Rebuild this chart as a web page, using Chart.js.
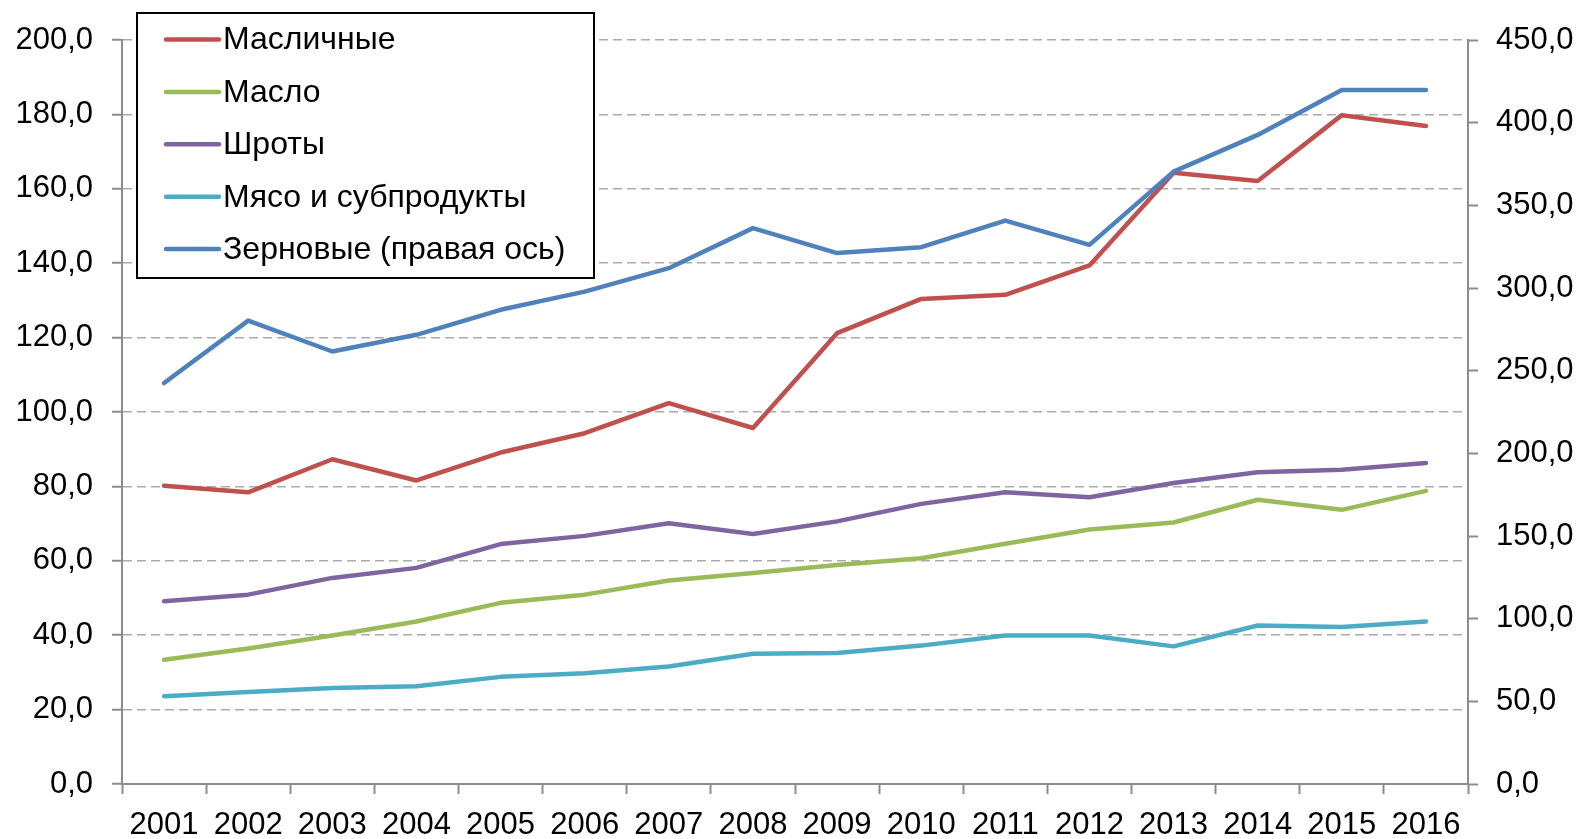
<!DOCTYPE html>
<html>
<head>
<meta charset="utf-8">
<script src="https://cdn.jsdelivr.net/npm/chart.js@4/dist/chart.umd.min.js"></script>
<style>
  html, body { margin: 0; padding: 0; background: #fff; }
  #wrap { width: 1580px; height: 839px; position: relative; }
</style>
</head>
<body>
<div id="wrap"><canvas id="exportChart"></canvas></div>
<script>
const years = ['2001','2002','2003','2004','2005','2006','2007','2008','2009','2010','2011','2012','2013','2014','2015','2016'];

const oilseeds = [80.2, 78.4, 87.3, 81.6, 89.1, 94.3, 102.4, 95.7, 121.2, 130.4, 131.5, 139.4, 164.3, 162.1, 179.8, 176.9];
const oil      = [33.4, 36.4, 39.9, 43.7, 48.7, 50.9, 54.7, 56.7, 58.9, 60.7, 64.6, 68.4, 70.3, 76.4, 73.7, 78.8];
const meal     = [49.1, 50.9, 55.4, 58.1, 64.5, 66.7, 70.1, 67.2, 70.6, 75.3, 78.4, 77.1, 80.9, 83.8, 84.5, 86.3];
const meat     = [23.6, 24.7, 25.8, 26.3, 28.8, 29.8, 31.6, 35.0, 35.2, 37.2, 39.9, 39.9, 37.0, 42.6, 42.2, 43.7];
const grain    = [242.5, 280.3, 261.6, 271.7, 286.8, 297.8, 312.0, 336.2, 321.1, 324.7, 340.8, 326.1, 370.4, 392.6, 419.8, 419.8];

const leftTicks = { min: 0, max: 200, step: 20 };
const rightTicks = { min: 0, max: 450, step: 50 };

const FAMILY = '"Liberation Sans", Arial, sans-serif';
const TICK_FONT = { family: FAMILY, size: 31 };
const LEGEND_SIZE = 32;
const AXIS_GREY = '#8c8c8c';
const fmt = v => Number(v).toFixed(1).replace('.', ',');

function series(label, data, color, axis, order) {
    return {
        label: label,
        data: data,
        borderColor: color,
        backgroundColor: color,
        borderWidth: 4.5,
        pointRadius: 0,
        pointHoverRadius: 0,
        tension: 0,
        fill: false,
        borderCapStyle: 'round',
        borderJoinStyle: 'round',
        yAxisID: axis,
        order: order
    };
}

// legend in a white framed box inside the plot
const boxLegend = {
    id: 'boxLegend',
    afterDraw(chart) {
        const ctx = chart.ctx;
        const x = 137, y = 13, w = 457, h = 265;
        ctx.save();
        ctx.fillStyle = '#fff';
        ctx.fillRect(x, y, w, h);
        ctx.lineWidth = 2;
        ctx.strokeStyle = '#000';
        ctx.strokeRect(x, y, w, h);
        ctx.font = LEGEND_SIZE + 'px ' + FAMILY;
        ctx.textBaseline = 'middle';
        ctx.textAlign = 'left';
        chart.data.datasets.forEach((ds, i) => {
            const ry = 39.5 + i * 52.4;
            ctx.strokeStyle = ds.borderColor;
            ctx.lineWidth = 4.5;
            ctx.lineCap = 'round';
            ctx.beginPath();
            ctx.moveTo(166, ry);
            ctx.lineTo(219, ry);
            ctx.stroke();
            ctx.fillStyle = '#000';
            ctx.fillText(ds.label, 223, ry + 1);
        });
        ctx.restore();
    }
};

const ctx = document.getElementById('exportChart').getContext('2d');
const exportChart = new Chart(ctx, {
    type: 'line',
    data: {
        labels: years,
        datasets: [
            series('Масличные', oilseeds, '#C0504D', 'y', 5),
            series('Масло', oil, '#9BBB59', 'y', 4),
            series('Шроты', meal, '#8064A2', 'y', 3),
            series('Мясо и субпродукты', meat, '#4BACC6', 'y', 2),
            series('Зерновые (правая ось)', grain, '#4F81BD', 'y1', 1)
        ]
    },
    options: {
        responsive: true,
        maintainAspectRatio: false,
        animation: false,
        layout: { padding: { top: 40, left: 0, right: 0, bottom: 0 } },
        plugins: {
            legend: { display: false },
            tooltip: { enabled: false }
        },
        scales: {
            x: {
                type: 'category',
                offset: true,
                grid: {
                    offset: true,
                    drawOnChartArea: false,
                    tickLength: 10,
                    tickColor: AXIS_GREY,
                    tickWidth: 2
                },
                border: { color: AXIS_GREY, width: 2 },
                ticks: { font: TICK_FONT, color: '#000', padding: 13, maxRotation: 0, autoSkip: false },
                afterFit: s => { s.height = 55; }
            },
            y: {
                position: 'left',
                min: leftTicks.min,
                max: leftTicks.max,
                grid: {
                    color: '#ababab',
                    lineWidth: 1.5,
                    tickLength: 10,
                    tickColor: AXIS_GREY,
                    tickWidth: 2,
                    tickBorderDash: []
                },
                border: { color: AXIS_GREY, width: 2, dash: [9, 5] },
                ticks: { stepSize: leftTicks.step, font: TICK_FONT, color: '#000', padding: 19, callback: fmt },
                afterFit: s => { s.width = 122; }
            },
            y1: {
                position: 'right',
                min: rightTicks.min,
                max: rightTicks.max,
                grid: {
                    drawOnChartArea: false,
                    tickLength: 10,
                    tickColor: AXIS_GREY,
                    tickWidth: 2
                },
                border: { color: AXIS_GREY, width: 2 },
                ticks: { stepSize: rightTicks.step, font: TICK_FONT, color: '#000', padding: 18, callback: fmt },
                afterFit: s => { s.width = 112; }
            }
        }
    },
    plugins: [boxLegend]
});
</script>
</body>
</html>
